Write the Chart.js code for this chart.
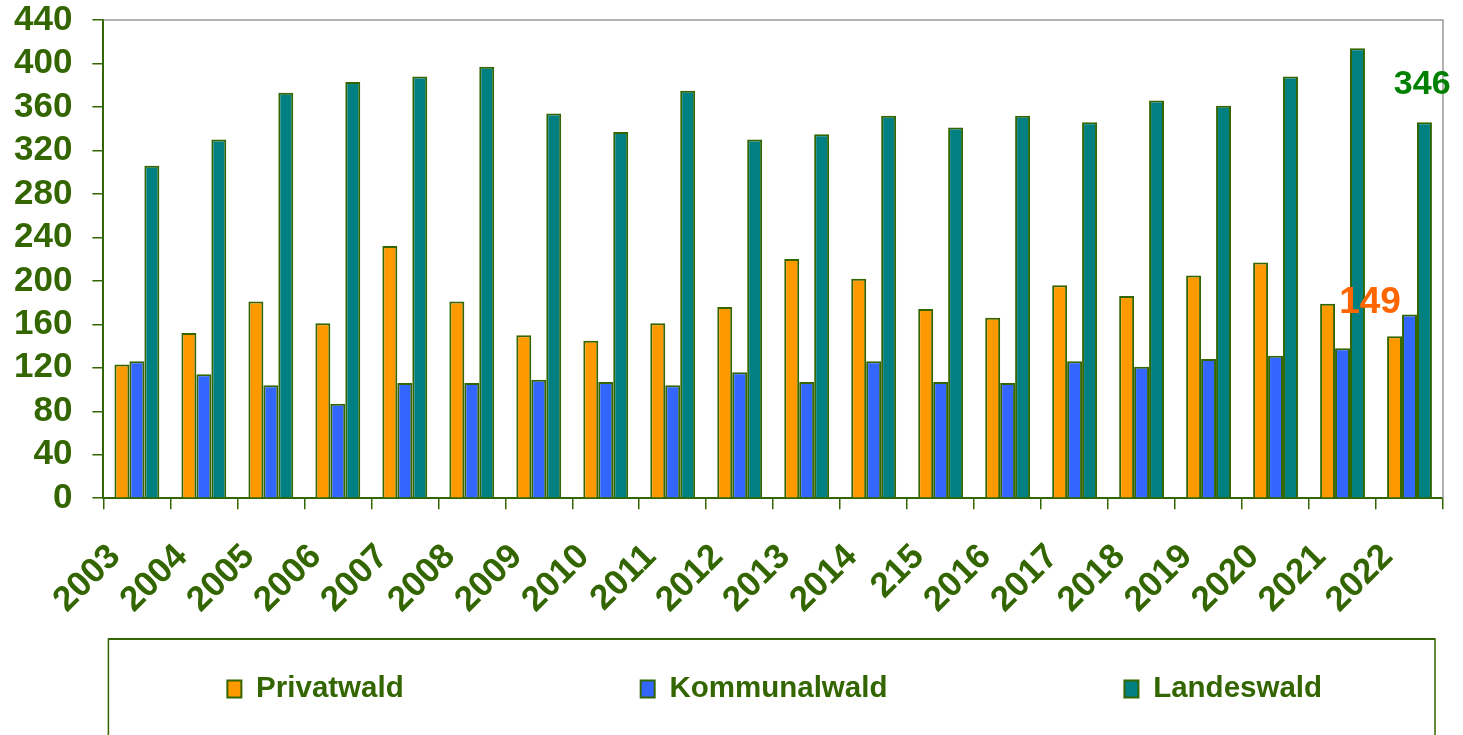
<!DOCTYPE html>
<html>
<head>
<meta charset="utf-8">
<script src="https://cdn.jsdelivr.net/npm/chart.js@4/dist/chart.umd.min.js"></script>
<style>
  html, body { margin: 0; padding: 0; background: #ffffff; }
  #wrap { width: 1463px; height: 735px; position: relative; }
</style>
</head>
<body>
<div id="wrap"><canvas id="c"></canvas></div>
<script>
// ---- data ----
const categories = ['2003','2004','2005','2006','2007','2008','2009','2010','2011','2012',
                    '2013','2014','215','2016','2017','2018','2019','2020','2021','2022'];
const privatwald   = [123, 152, 181, 161, 232, 181, 150, 145, 161, 176, 220, 202, 174, 166, 196, 186, 205, 217, 179, 149];
const kommunalwald = [126, 114, 104,  87, 106, 106, 109, 107, 104, 116, 107, 126, 107, 106, 126, 121, 128, 131, 138, 169];
const landeswald   = [306, 330, 373, 383, 388, 397, 354, 337, 375, 330, 335, 352, 341, 352, 346, 366, 361, 388, 414, 346];
const seriesNames  = ['Privatwald', 'Kommunalwald', 'Landeswald'];
const yTicks = [0, 40, 80, 120, 160, 200, 240, 280, 320, 360, 400, 440];
// annotation labels: text, category position, value position
const noteTexts  = ['149', '346'];
const noteCatPos = [18.41, 19.19];
const noteValPos = [179.5, 380.6];

// ---- styles ----
const GREEN_DARK = '#336600';
const FILLS = ['#FF9900', '#3366FF', '#008080'];
const NOTE_COLORS = ['#FF6600', '#008000'];
const FONT = '"Liberation Sans", Arial, sans-serif';
const FRAME_GAP = -9;     // legend frame top relative to legend box top
const ITEM_GAP = 41;      // legend item centre below legend box top
const ITEM_SHIFT = 3;     // legend items slightly right of frame centre

const frameAndNotes = {
  id: 'frameAndNotes',
  afterLayout(chart) {
    const lg = chart.legend;
    if (!lg) return;
    const pad = lg.options.labels.padding;
    const ca = chart.chartArea;
    const T = lg.top;
    lg._frame = { left: ca.left + 5, right: ca.right - 8, top: T + FRAME_GAP };
    const boxes = lg.legendHitBoxes || [];
    const total = boxes.reduce((s, b) => s + b.width, 0) + pad * (boxes.length - 1);
    const start = (lg._frame.left + lg._frame.right) / 2 - total / 2 + ITEM_SHIFT;
    const itemH = lg.options.labels.font.size;
    lg.left = start - pad;
    lg.right = chart.width + 2000;
    lg.top = T + ITEM_GAP - itemH / 2 - pad;
    lg.bottom = chart.height;
  },
  afterDraw(chart) {
    const ctx = chart.ctx;
    const ca = chart.chartArea;
    const x = chart.scales.x, y = chart.scales.y;
    ctx.save();
    ctx.strokeStyle = '#999999';
    ctx.lineWidth = 1.5;
    ctx.beginPath();
    ctx.moveTo(ca.left, ca.top);
    ctx.lineTo(ca.right, ca.top);
    ctx.lineTo(ca.right, ca.bottom);
    ctx.stroke();
    const f = chart.legend && chart.legend._frame;
    if (f) {
      ctx.strokeStyle = GREEN_DARK;
      ctx.lineWidth = 1.5;
      ctx.beginPath();
      ctx.moveTo(f.left, chart.height + 5);
      ctx.lineTo(f.left, f.top);
      ctx.lineTo(f.right, f.top);
      ctx.lineTo(f.right, chart.height + 5);
      ctx.stroke();
      ctx.lineWidth = 2;
      ctx.beginPath();
      ctx.moveTo(f.left, f.top);
      ctx.lineTo(f.right, f.top);
      ctx.stroke();
    }
    ctx.textAlign = 'center';
    ctx.textBaseline = 'middle';
    const sizes = [37, 34];
    noteTexts.forEach((t, i) => {
      ctx.font = 'bold ' + sizes[i] + 'px ' + FONT;
      ctx.fillStyle = NOTE_COLORS[i];
      ctx.fillText(t, x.getPixelForValue(noteCatPos[i]), y.getPixelForValue(noteValPos[i]));
    });
    ctx.restore();
  }
};

const mkSet = (label, data, i) => ({
  label, data,
  backgroundColor: FILLS[i],
  borderColor: GREEN_DARK,
  borderWidth: 2,
  barPercentage: 1.0,
  categoryPercentage: 0.67
});

new Chart(document.getElementById('c'), {
  type: 'bar',
  data: {
    labels: categories,
    datasets: [
      mkSet(seriesNames[0], privatwald, 0),
      mkSet(seriesNames[1], kommunalwald, 1),
      mkSet(seriesNames[2], landeswald, 2)
    ]
  },
  options: {
    responsive: true,
    maintainAspectRatio: false,
    animation: false,
    layout: { padding: { left: -6, right: 20, top: 20, bottom: 0 } },
    plugins: {
      tooltip: { enabled: false },
      legend: {
        position: 'bottom',
        align: 'start',
        maxHeight: 87,
        labels: {
          color: GREEN_DARK,
          font: { family: FONT, size: 29.5, weight: 'bold' },
          boxWidth: 14,
          boxHeight: 17,
          padding: 237
        }
      }
    },
    scales: {
      x: {
        afterFit(scale) { scale.paddingLeft = 0; scale.paddingRight = 0; },
        grid: { display: true, drawOnChartArea: false, drawTicks: true, tickLength: 11, color: GREEN_DARK, lineWidth: 1.5, offset: true },
        border: { display: true, color: GREEN_DARK, width: 2 },
        ticks: {
          autoSkip: false,
          minRotation: 45, maxRotation: 45,
          color: GREEN_DARK,
          font: { family: FONT, size: 35, weight: 'bold' },
          padding: 27,
          labelOffset: -22
        }
      },
      y: {
        min: 0, max: 440,
        afterBuildTicks(scale) { scale.ticks = yTicks.map(v => ({ value: v })); },
        afterFit(scale) { scale.paddingTop = 0; scale.paddingBottom = 0; },
        grid: { display: true, drawOnChartArea: false, drawTicks: true, tickLength: 11, color: GREEN_DARK, lineWidth: 1.5 },
        border: { display: true, color: GREEN_DARK, width: 2 },
        ticks: {
          autoSkip: false,
          color: GREEN_DARK,
          font: { family: FONT, size: 35, weight: 'bold' },
          padding: 20
        }
      }
    }
  },
  plugins: [frameAndNotes]
});
</script>
</body>
</html>
